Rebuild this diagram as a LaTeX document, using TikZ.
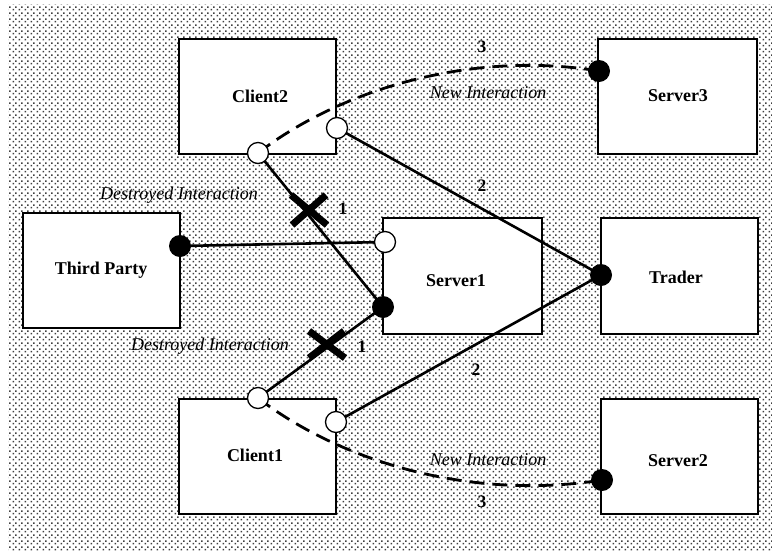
\documentclass[tikz,border=0pt]{standalone}
\usepackage{fontspec}
\setmainfont{Liberation Serif}
\usetikzlibrary{patterns.meta,calc}

% fine halftone used as the page tint
\tikzdeclarepattern{
  name=halftone,
  type=colored,
  bounding box={(0pt,0pt) and (6pt,6pt)},
  tile size={(6pt,6pt)},
  code={
    \fill[black!75] (0.6pt,0.6pt) rectangle (2.4pt,2.4pt);
    \fill[black!75] (3.6pt,3.6pt) rectangle (5.4pt,5.4pt);
  }
}

\tikzset{
  unit/.style={draw=black, line width=1.6pt, fill=white, inner sep=0pt,
               minimum width=157pt, minimum height=115pt},
  boxname/.style={font=\fontsize{18}{20}\selectfont\bfseries, inner sep=0pt},
  note/.style={font=\fontsize{18}{20}\selectfont\itshape, inner sep=0pt},
  num/.style={font=\fontsize{17.5}{20}\selectfont\bfseries, inner sep=0pt},
  link/.style={line width=2.6pt},
  newlink/.style={line width=2.8pt, dash pattern=on 15pt off 8pt},
  openport/.style={circle, draw=black, line width=1.3pt, fill=white,
                   minimum size=21pt, inner sep=0pt},
  fullport/.style={circle, fill=black, minimum size=22pt, inner sep=0pt},
  cross/.style={line width=7pt}
}

\begin{document}
\begin{tikzpicture}[x=1pt, y=-1pt]
  \useasboundingbox (0,0) rectangle (772,550);
  \fill[pattern=halftone] (8,4) rectangle (772,550);

  % components
  \node[unit] (client2) at (257.5,96.5) {};
  \node[unit] (third)   at (101.5,270.5) {};
  \node[unit, minimum width=159pt, minimum height=116pt] (server1) at (462.5,276) {};
  \node[unit, minimum width=159pt] (server3) at (677.5,96.5) {};
  \node[unit, minimum height=116pt] (trader) at (679.5,276) {};
  \node[unit] (server2) at (679.5,456.5) {};
  \node[unit] (client1) at (257.5,456.5) {};

  \node[boxname] (client2-t) at (260,96) {Client2};
  \node[boxname] (third-t)   at (101,270) {Third Party};
  \node[boxname] (server1-t) at (456,281) {Server1};
  \node[boxname] (server3-t) at (678,96) {Server3};
  \node[boxname] (trader-t)  at (676,277) {Trader};
  \node[boxname] (server2-t) at (678,461) {Server2};
  \node[boxname] (client1-t) at (255,455) {Client1};

  % interface points
  \coordinate (c2b) at (258,153);
  \coordinate (c2r) at (337,128);
  \coordinate (tpr) at (180,246);
  \coordinate (s1a) at (385,242);
  \coordinate (s1b) at (383,307);
  \coordinate (s3p) at (599,71);
  \coordinate (trp) at (601,275);
  \coordinate (s2p) at (602,480);
  \coordinate (c1t) at (258,398);
  \coordinate (c1r) at (336,422);

  % interactions
  \draw[link] (tpr) -- (s1a);
  \draw[link] (c2b) -- (s1b);
  \draw[link] (c1t) -- (s1b);
  \draw[link] (c2r) -- (trp);
  \draw[link] (c1r) -- (trp);
  \draw[newlink] (c2b) .. controls (340,90) and (470,50) .. (s3p);
  \draw[newlink] (c1t) .. controls (340,461) and (470,501) .. (s2p);

  % broken interactions
  \coordinate (x1) at (309,210);
  \coordinate (x2) at (327,344);
  \draw[cross] ($(x1)+(-18,-15)$) -- ($(x1)+(18,15)$);
  \draw[cross] ($(x1)+(-17,15)$) -- ($(x1)+(17,-15)$);
  \draw[cross] ($(x2)+(-18,-13)$) -- ($(x2)+(18,14)$);
  \draw[cross] ($(x2)+(-18,14)$) -- ($(x2)+(17,-13)$);

  % ports
  \node[openport] (c2b-p) at (c2b) {};
  \node[openport] (c2r-p) at (c2r) {};
  \node[fullport] (tpr-p) at (tpr) {};
  \node[openport] (s1a-p) at (s1a) {};
  \node[fullport] (s1b-p) at (s1b) {};
  \node[fullport] (s3p-p) at (s3p) {};
  \node[fullport] (trp-p) at (trp) {};
  \node[fullport] (s2p-p) at (s2p) {};
  \node[openport] (c1t-p) at (c1t) {};
  \node[openport] (c1r-p) at (c1r) {};

  % labels
  \node[note] (d1) at (179,195) {Destroyed Interaction};
  \node[note] (d2) at (210,346) {Destroyed Interaction};
  \node[note] (n1) at (488,93) {New Interaction};
  \node[note] (n2) at (488,460) {New Interaction};
  \node[num] (k1a) at (343,209) {1};
  \node[num] (k1b) at (362,347) {1};
  \node[num] (k2a) at (482,186) {2};
  \node[num] (k2b) at (476,370) {2};
  \node[num] (k3a) at (482,47) {3};
  \node[num] (k3b) at (482,502) {3};
\end{tikzpicture}
\end{document}
